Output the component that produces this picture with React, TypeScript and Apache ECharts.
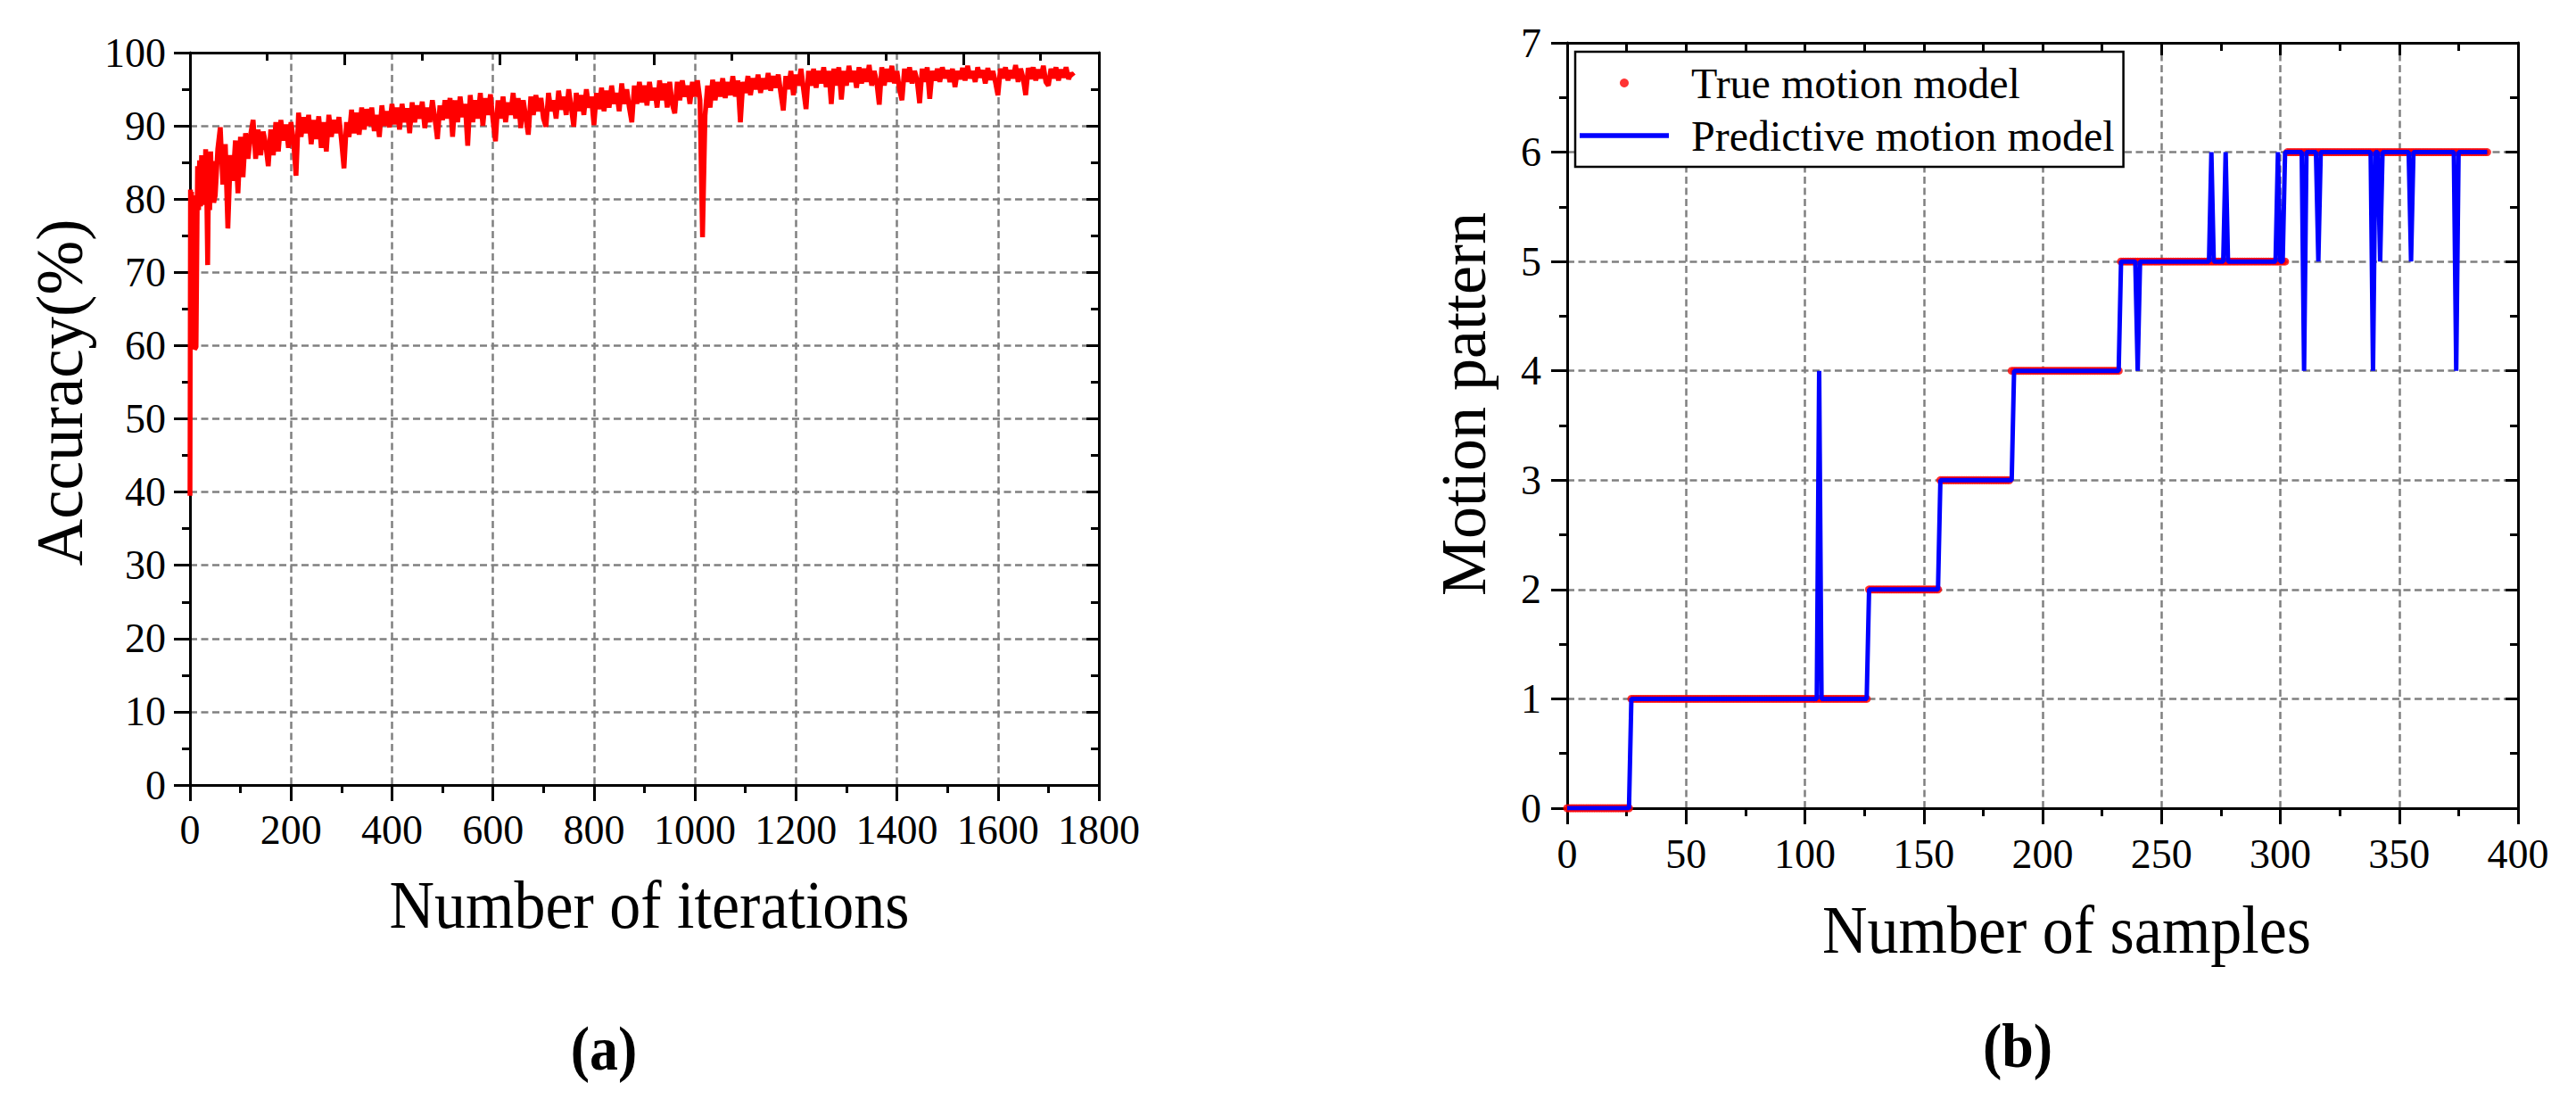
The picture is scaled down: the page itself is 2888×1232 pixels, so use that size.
import React, { useEffect, useRef } from "react";
import * as echarts from "echarts";

const FONT = '"Liberation Serif", "Times New Roman", serif';

// (a) accuracy vs iterations
const earlyIterations = [0, 1, 2, 3, 5, 7, 9, 12, 15, 17, 19, 21, 23, 25, 27, 29, 31, 33, 35, 37, 39, 41, 43, 45, 47];
const earlyAccuracy = [
  39.5, 81.3, 60, 81, 72.8, 80.5, 59.5, 59.8, 84.5, 78.5, 85.3, 79, 86, 80.5, 85.8, 79.2, 86.8, 81.5, 71, 84,
  78.5, 86.5, 80.2, 85.2, 79.5,
];
const accuracyStart = 50;
const accuracyStep = 5;
const accuracy = [
  80.5, 86.8, 89.8, 82, 87.5, 76, 86, 82.5, 88, 80.8,
  88.5, 83, 89, 85.5, 88.8, 90.8, 85.5, 89.5, 86, 89.2,
  87.5, 84.5, 89.5, 86, 90.5, 86.5, 90.8, 88, 90.2, 87,
  90.5, 88, 83.2, 91.8, 88.5, 91.2, 89, 91.5, 87.5, 90.8,
  88.2, 91.3, 87, 90.5, 86.5, 91.5, 88.5, 90.8, 89, 91.2,
  88, 84.2, 90.5, 88.5, 92.2, 89, 91.8, 88.8, 92.5, 89.5,
  92.3, 90, 92.5, 89.3, 91.5, 88.5, 92.8, 90, 92, 89.8,
  93, 90.2, 92.5, 89.5, 93, 90.5, 92.4, 89, 93.2, 90.5,
  92.8, 91, 93.3, 89.7, 92.5, 90.5, 93.5, 91, 88.2, 92.8,
  90.8, 93.5, 91, 93.8, 88.5, 93.5, 90.5, 94, 91.2, 93,
  87.3, 94.2, 90.5, 93.5, 91, 94.5, 90, 93.8, 91.5, 94.3,
  90.8, 87.9, 93.5, 91, 94, 90.5, 93.2, 91.5, 94.5, 91,
  93.8, 89.7, 93.5, 91.2, 88.8, 94, 91.5, 94.2, 92, 93.8,
  91, 89.9, 94.5, 92, 93.5, 91, 94.8, 92.2, 94, 91.5,
  95, 92.5, 89.9, 94.5, 92, 94.2, 91.5, 95, 92.5, 94,
  90.1, 94.5, 92.3, 95.2, 92, 94.8, 92.5, 95.5, 93, 94.5,
  92, 95.8, 93, 95, 92.5, 90.5, 95.5, 93, 96, 93.2,
  95.5, 92.8, 96, 93.5, 95.2, 92.5, 96.2, 93.5, 95.8, 92.5,
  96, 93, 91.7, 96, 93.5, 96.2, 94, 95.5, 93, 96,
  94, 96.2, 93.5, 74.8, 91.4, 95.5, 92.5, 96.3, 93.5, 96,
  94, 96.5, 93.8, 96, 94.2, 96.8, 94, 96.2, 90.5, 96,
  94.5, 96.8, 94.2, 96.5, 95, 97, 94.5, 96.5, 95, 97.2,
  94.8, 96.8, 95.2, 97, 94.5, 92.1, 96.8, 95, 97.5, 94.2,
  97, 95.5, 97.8, 95, 92.3, 97.5, 95.5, 97.8, 95.2, 97.5,
  95.8, 98, 95.3, 97.5, 93, 97.8, 95.5, 98, 93.6, 97.5,
  95.5, 98.2, 96, 97.5, 95.2, 98, 95.8, 97.8, 96, 98.3,
  95.5, 97.5, 96, 92.9, 98, 95.5, 97.8, 96, 98.2, 95.8,
  97.5, 95, 93.5, 97.8, 96, 98, 95.8, 97.5, 96.2, 93.1,
  97.8, 96, 98, 93.7, 97.5, 96.2, 97.8, 96, 98, 96.5,
  97.6, 96, 97.8, 95.3, 97.5, 96.4, 97.9, 96.2, 98.2, 96.5,
  97.5, 96, 98, 96.6, 97.6, 95.8, 97.9, 96.3, 97.5, 96,
  94.2, 97.8, 96.5, 98, 96.2, 97.6, 96.5, 98.3, 96, 97.8,
  96.5, 94.2, 97.9, 96.4, 98, 96.2, 97.7, 96.5, 98.2, 96,
  95.5, 97.8, 96.5, 98, 96.2, 97.7, 96.6, 98, 96.4, 97.2,
  96.8,
];

// (b) motion pattern vs samples
const lastSample = 387;
const trueLevels = [0, 1, 2, 3, 4, 5, 6];
const trueStarts = [0, 27, 127, 157, 187, 233, 303];
const predictedOverrides: [number, number][] = [
  [106, 4], [187, 3], [240, 4], [271, 6], [277, 6], [299, 6], [302, 6],
  [310, 4], [316, 5], [339, 4], [342, 5], [355, 5], [374, 4],
];

const accuracyData = earlyIterations
  .map((x, i) => [x, earlyAccuracy[i]])
  .concat(accuracy.map((v, i) => [accuracyStart + i * accuracyStep, v]));

const trueData: number[][] = [];
for (let s = 0; s <= lastSample; s++) {
  let level = trueLevels[0];
  trueStarts.forEach((start, k) => {
    if (s >= start) level = trueLevels[k];
  });
  trueData.push([s, level]);
}
const overrideMap = new Map(predictedOverrides);
const predictedData = trueData.map(([s, v]) => [s, overrideMap.has(s) ? (overrideMap.get(s) as number) : v]);

const black = { color: "#000", width: 3 };
const gridLine = { show: true, lineStyle: { color: "#808080", width: 2.5, type: [8, 4.5] } };
const label = (margin: number) => ({
  fontSize: 46,
  fontFamily: FONT,
  color: "#000",
  margin,
  formatter: (v: number) => `{t|${v}}`,
  rich: { t: { fontSize: 46, fontFamily: FONT, color: "#000" } },
});

const axis = (gridIndex: number, min: number, max: number, interval: number, position: string, inside: boolean, labelMargin?: number) => ({
  gridIndex,
  type: "value" as const,
  min,
  max,
  interval,
  position,
  axisLine: { show: true, onZero: false, lineStyle: black },
  axisTick: { show: true, inside, length: inside ? 14 : 18, lineStyle: black },
  minorTick: { show: true, splitNumber: 2, length: 9, lineStyle: black },
  axisLabel: labelMargin === undefined ? { show: false } : label(labelMargin),
  splitLine: labelMargin === undefined ? { show: false } : gridLine,
});

const title = (text: string, x: number, y: number, rotation = 0, fontSize = 70, fontWeight = "normal", scaleY = 1.1) => ({
  type: "text" as const,
  x,
  y,
  rotation,
  scaleY,
  style: { text, fontSize, fontFamily: FONT, fontWeight, fill: "#000", textAlign: "center", textVerticalAlign: "middle" },
});

const App: React.FC = () => {
  const chartRef = useRef<HTMLDivElement>(null);

  useEffect(() => {
    if (!chartRef.current) return;
    const chart = echarts.init(chartRef.current, undefined, { renderer: "svg" });

    const option = {
      animation: false,
      backgroundColor: "#fff",
      textStyle: { fontFamily: FONT, color: "#000" },
      grid: [
        { left: 213, top: 59, width: 1019, height: 821, outerBoundsMode: "none" },
        { left: 1757, top: 48, width: 1066, height: 858, outerBoundsMode: "none" },
      ],
      xAxis: [
        axis(0, 0, 1800, 200, "bottom", false, 27),
        axis(0, 0, 1763, 300, "top", true),
        axis(1, 0, 400, 50, "bottom", false, 28),
        axis(1, 0, 400, 50, "top", true),
      ],
      yAxis: [
        axis(0, 0, 100, 10, "left", false, 27),
        axis(0, 0, 100, 10, "right", true),
        axis(1, 0, 7, 1, "left", false, 29),
        axis(1, 0, 7, 1, "right", true),
      ],
      legend: {
        left: 1766,
        top: 58,
        orient: "vertical",
        backgroundColor: "#fff",
        borderColor: "#000",
        borderWidth: 2.5,
        borderRadius: 0,
        padding: [11, 10, 11, 5],
        itemWidth: 100,
        itemHeight: 10,
        itemGap: 11,
        textStyle: { fontSize: 48, fontFamily: FONT, color: "#000", lineHeight: 48, padding: [0, 0, 0, 20] },
        data: [
          { name: "True motion model", icon: "circle" },
          { name: "Predictive motion model", icon: "path://M0 0H100V5.5H0Z" },
        ],
      },
      series: [
        {
          name: "Accuracy",
          type: "line",
          xAxisIndex: 0,
          yAxisIndex: 0,
          data: accuracyData,
          symbol: "none",
          lineStyle: { color: "#ff0000", width: 5.5 },
          itemStyle: { color: "#ff0000" },
        },
        {
          name: "True motion model",
          type: "scatter",
          xAxisIndex: 2,
          yAxisIndex: 2,
          data: trueData,
          symbol: "circle",
          symbolSize: 9,
          itemStyle: { color: "#ff0000" },
        },
        {
          name: "Predictive motion model",
          type: "line",
          xAxisIndex: 2,
          yAxisIndex: 2,
          data: predictedData,
          symbol: "none",
          lineStyle: { color: "#0000ff", width: 5 },
          itemStyle: { color: "#0000ff" },
        },
      ],
      graphic: [
        title("Number of iterations", 728, 1014),
        title("Accuracy(%)", 67, 440, Math.PI / 2, 73, "normal", 1),
        title("(a)", 677, 1175, 0, 64, "bold"),
        title("Number of samples", 2317, 1042),
        title("Motion pattern", 1641, 453, Math.PI / 2, 72, "normal", 1),
        title("(b)", 2262, 1172, 0, 64, "bold"),
      ],
    };

    chart.setOption(option as any);
    return () => chart.dispose();
  }, []);

  return (
    <div
      ref={chartRef}
      style={{ position: "fixed", left: 0, top: 0, width: "2888px", height: "1232px", background: "#fff" }}
    ></div>
  );
};

export default App;
